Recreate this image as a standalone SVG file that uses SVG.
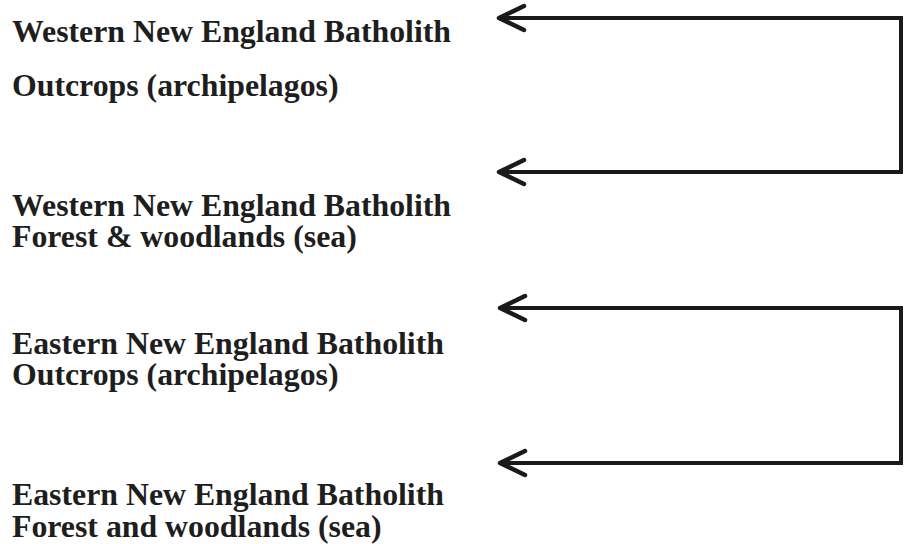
<svg xmlns="http://www.w3.org/2000/svg" width="905" height="544" viewBox="0 0 905 544">
  <style>
    .lbl { font-family: "Liberation Serif", "Times New Roman", serif; font-weight: bold; font-size: 31.8px; fill: #1e1e1e; }
    .conn { fill: none; stroke: #1a1a1a; stroke-width: 4; stroke-linejoin: miter; }
    .head { fill: none; stroke: #1a1a1a; stroke-width: 4.5; stroke-linecap: round; stroke-linejoin: round; }
  </style>
  <defs>
    <marker id="chev" markerUnits="userSpaceOnUse" viewBox="-30 -16 34 32" markerWidth="34" markerHeight="32" refX="0" refY="0" orient="auto-start-reverse">
      <path class="head" d="M-25,-12 L0,0 L-25,12"/>
    </marker>
  </defs>
  <rect width="905" height="544" fill="#ffffff"/>
  <g id="node-w-outcrops">
    <text class="lbl" x="12" y="42">Western New England Batholith</text>
    <text class="lbl" x="12" y="96">Outcrops (archipelagos)</text>
  </g>
  <g id="node-w-forest">
    <text class="lbl" x="12" y="216">Western New England Batholith</text>
    <text class="lbl" x="12" y="247">Forest &amp; woodlands (sea)</text>
  </g>
  <g id="node-e-outcrops">
    <text class="lbl" x="12" y="354">Eastern New England Batholith</text>
    <text class="lbl" x="12" y="385">Outcrops (archipelagos)</text>
  </g>
  <g id="node-e-forest">
    <text class="lbl" x="12" y="505">Eastern New England Batholith</text>
    <text class="lbl" x="12" y="537">Forest and woodlands (sea)</text>
  </g>
  <g id="connectors">
    <path class="conn" d="M499,18 L901,18 L901,172 L499,172" marker-start="url(#chev)" marker-end="url(#chev)"/>
    <path class="conn" d="M500,308 L901,308 L901,463 L500,463" marker-start="url(#chev)" marker-end="url(#chev)"/>
  </g>
</svg>
